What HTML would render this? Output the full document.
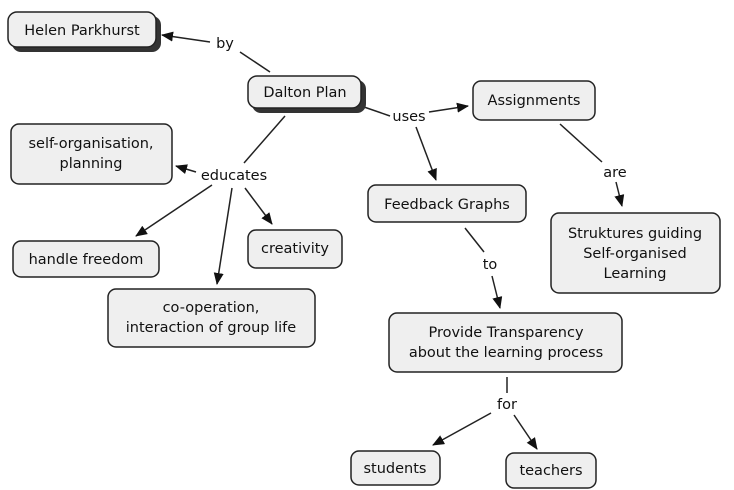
<!DOCTYPE html>
<html><head><style>
body{margin:0;background:#fff;}
svg{display:block}
text{font-family:"DejaVu Sans","Liberation Sans",sans-serif;font-size:14.5px;fill:#111;}
.b{fill:#efefef;stroke:#222;stroke-width:1.5}
.s{fill:#333}
.l{stroke:#222;stroke-width:1.5;fill:none}
</style></head><body>
<svg width="734" height="490" viewBox="0 0 734 490">
<defs><marker id="a" markerWidth="12" markerHeight="10" refX="11" refY="5" orient="auto" markerUnits="userSpaceOnUse"><path d="M0,0 L12,5 L0,10z" fill="#111"/></marker></defs>
<!-- lines -->
<path class="l" d="M210,42 L162,35" marker-end="url(#a)"/>
<path class="l" d="M240,52 L270,72"/>
<path class="l" d="M285,116 L244,163"/>
<path class="l" d="M196,172 L176,166" marker-end="url(#a)"/>
<path class="l" d="M212,185 L136,236" marker-end="url(#a)"/>
<path class="l" d="M232,188 L217,284" marker-end="url(#a)"/>
<path class="l" d="M245,188 L272,224" marker-end="url(#a)"/>
<path class="l" d="M364,107 L390,116"/>
<path class="l" d="M429,112 L468,106" marker-end="url(#a)"/>
<path class="l" d="M416,127 L436,180" marker-end="url(#a)"/>
<path class="l" d="M560,124 L602,162"/>
<path class="l" d="M616,182 L622,206" marker-end="url(#a)"/>
<path class="l" d="M465,228 L484,252"/>
<path class="l" d="M492,276 L500,308" marker-end="url(#a)"/>
<path class="l" d="M507,377 L507,393"/>
<path class="l" d="M491,413 L433,445" marker-end="url(#a)"/>
<path class="l" d="M514,415 L537,449" marker-end="url(#a)"/>
<!-- boxes -->
<rect class="s" x="12" y="16" width="149" height="36" rx="9"/>
<rect class="b" x="8" y="12" width="148" height="35" rx="9"/>
<text x="82" y="35" text-anchor="middle">Helen Parkhurst</text>
<rect class="s" x="252" y="80" width="114" height="33" rx="9"/>
<rect class="b" x="248" y="76" width="113" height="32" rx="9"/>
<text x="305" y="97" text-anchor="middle">Dalton Plan</text>
<rect class="b" x="11" y="124" width="161" height="60" rx="8"/>
<text x="91" y="148" text-anchor="middle">self-organisation,</text>
<text x="91" y="168" text-anchor="middle">planning</text>
<rect class="b" x="13" y="241" width="146" height="36" rx="8"/>
<text x="86" y="264" text-anchor="middle">handle freedom</text>
<rect class="b" x="248" y="230" width="94" height="38" rx="8"/>
<text x="295" y="253" text-anchor="middle">creativity</text>
<rect class="b" x="108" y="289" width="207" height="58" rx="8"/>
<text x="211" y="312" text-anchor="middle">co-operation,</text>
<text x="211" y="332" text-anchor="middle">interaction of group life</text>
<rect class="b" x="368" y="185" width="158" height="37" rx="8"/>
<text x="447" y="209" text-anchor="middle">Feedback Graphs</text>
<rect class="b" x="473" y="81" width="122" height="39" rx="8"/>
<text x="534" y="105" text-anchor="middle">Assignments</text>
<rect class="b" x="551" y="213" width="169" height="80" rx="8"/>
<text x="635" y="238" text-anchor="middle">Struktures guiding</text>
<text x="635" y="258" text-anchor="middle">Self-organised</text>
<text x="635" y="278" text-anchor="middle">Learning</text>
<rect class="b" x="389" y="313" width="233" height="59" rx="8"/>
<text x="506" y="337" text-anchor="middle">Provide Transparency</text>
<text x="506" y="357" text-anchor="middle">about the learning process</text>
<rect class="b" x="351" y="451" width="89" height="34" rx="8"/>
<text x="395" y="473" text-anchor="middle">students</text>
<rect class="b" x="506" y="453" width="90" height="35" rx="8"/>
<text x="551" y="475" text-anchor="middle">teachers</text>
<!-- labels -->
<text x="225" y="48" text-anchor="middle">by</text>
<text x="409" y="121" text-anchor="middle">uses</text>
<text x="234" y="180" text-anchor="middle">educates</text>
<text x="615" y="177" text-anchor="middle">are</text>
<text x="490" y="269" text-anchor="middle">to</text>
<text x="507" y="409" text-anchor="middle">for</text>
</svg>
</body></html>
